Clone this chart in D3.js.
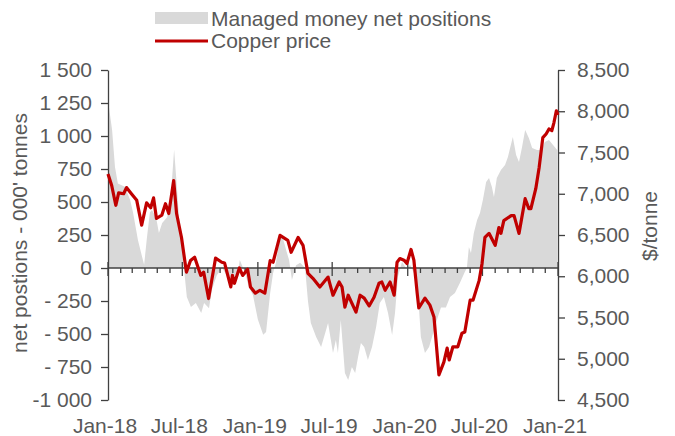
<!DOCTYPE html>
<meta charset="utf-8">
<script src="https://cdn.jsdelivr.net/npm/d3@7"></script>
<style>
body { margin: 0; background: #fff; }
text { font-family: "Liberation Sans", Arial, sans-serif; fill: #595959; }
</style>
<body>
<script>

// managed money net positions ('000 tonnes), weekly-ish
var posDates = ["2018-01-01","2018-01-11","2018-01-18","2018-01-25","2018-02-11","2018-02-24","2018-03-03","2018-03-15","2018-03-25","2018-03-30",
  "2018-04-06","2018-04-13","2018-04-18","2018-04-28","2018-05-05","2018-05-13","2018-05-25","2018-06-03","2018-06-11","2018-06-16",
  "2018-06-23","2018-06-30","2018-07-05","2018-07-12","2018-07-22","2018-08-03","2018-08-16","2018-08-23","2018-09-04","2018-09-11",
  "2018-09-23","2018-10-06","2018-10-20","2018-11-01","2018-11-14","2018-11-18","2018-11-26","2018-12-03","2018-12-10","2018-12-20",
  "2019-01-01","2019-01-14","2019-01-21","2019-01-31","2019-02-07","2019-02-14","2019-02-24","2019-03-03","2019-03-11","2019-03-18",
  "2019-03-25","2019-04-04","2019-04-14","2019-04-26","2019-05-03","2019-05-10","2019-05-23","2019-06-04","2019-06-14","2019-06-21",
  "2019-07-03","2019-07-10","2019-07-15","2019-07-22","2019-08-01","2019-08-09","2019-08-18","2019-08-26","2019-09-02","2019-09-09",
  "2019-09-17","2019-09-26","2019-10-06","2019-10-16","2019-10-25","2019-11-04","2019-11-14","2019-11-24","2019-12-01","2019-12-08",
  "2019-12-18","2019-12-28","2020-01-07","2020-01-16","2020-01-26","2020-02-02","2020-02-12","2020-02-22","2020-03-03","2020-03-12",
  "2020-03-22","2020-04-03","2020-04-13","2020-04-25","2020-05-07","2020-05-19","2020-05-24","2020-05-29","2020-06-03","2020-06-10",
  "2020-06-18","2020-06-25","2020-07-02","2020-07-10","2020-07-17","2020-07-24","2020-07-29","2020-08-05","2020-08-15","2020-08-25",
  "2020-09-01","2020-09-13","2020-09-21","2020-09-28","2020-10-05","2020-10-13","2020-10-22","2020-10-30","2020-11-11","2020-11-21",
  "2020-11-30","2020-12-10","2020-12-20","2020-12-30"];
var posValues = [1270,1045,765,640,615,515,420,210,85,25,
  235,420,440,385,265,340,385,540,895,690,
  385,210,0,-220,-295,-265,-340,-265,-305,-165,
  -55,0,-70,-90,-20,60,0,-60,-145,-205,
  -390,-505,-485,-190,-40,40,250,225,135,60,
  -90,20,40,0,-250,-417,-523,-598,-492,-417,
  -644,-545,-644,-394,-795,-848,-750,-795,-674,-568,
  -598,-697,-598,-447,-265,-220,-341,-508,-341,-68,
  45,0,23,-38,-190,-523,-644,-598,-492,-394,
  -300,-300,-220,-190,-114,-30,0,159,114,265,
  364,417,515,652,682,614,538,682,742,780,
  841,992,856,803,909,1045,985,909,894,894,
  955,970,932,894];

// copper price ($/tonne)
var cuDates = ["2018-01-01","2018-01-10","2018-01-20","2018-01-27","2018-02-08","2018-02-15","2018-02-27","2018-03-12","2018-03-24","2018-04-05",
  "2018-04-15","2018-04-22","2018-04-29","2018-05-12","2018-05-21","2018-05-29","2018-06-10","2018-06-17","2018-06-29","2018-07-11",
  "2018-07-21","2018-07-31","2018-08-15","2018-08-22","2018-09-03","2018-09-20","2018-10-05","2018-10-12","2018-10-27","2018-10-31",
  "2018-11-05","2018-11-17","2018-11-25","2018-12-07","2018-12-14","2018-12-26","2019-01-06","2019-01-18","2019-01-31","2019-02-07",
  "2019-02-24","2019-03-15","2019-03-23","2019-04-09","2019-04-21","2019-05-03","2019-05-15","2019-06-01","2019-06-21","2019-07-03",
  "2019-07-18","2019-07-25","2019-08-01","2019-08-09","2019-08-28","2019-09-07","2019-09-17","2019-09-29","2019-10-11","2019-10-23",
  "2019-10-30","2019-11-07","2019-11-19","2019-11-29","2019-12-06","2019-12-13","2019-12-23","2019-12-30","2020-01-09","2020-01-16",
  "2020-01-24","2020-01-28","2020-02-12","2020-02-24","2020-03-05","2020-03-17","2020-03-29","2020-04-06","2020-04-11","2020-04-20",
  "2020-05-02","2020-05-12","2020-05-19","2020-06-01","2020-06-08","2020-06-23","2020-06-30","2020-07-07","2020-07-17","2020-08-01",
  "2020-08-10","2020-08-15","2020-08-22","2020-09-09","2020-09-16","2020-09-28","2020-10-13","2020-10-22","2020-10-27","2020-11-08",
  "2020-11-16","2020-11-25","2020-12-03","2020-12-10","2020-12-17","2020-12-22","2020-12-28","2021-01-01"];
var cuPrices = [7240,7100,6860,7010,7000,7075,7000,6920,6620,6890,
  6830,6950,6700,6740,6880,6760,7160,6760,6470,6050,
  6190,6230,6010,6050,5730,6220,6170,6160,5870,6010,
  5915,6100,6010,6085,5870,5795,5830,5795,6190,6170,
  6495,6435,6290,6470,6375,6035,5975,5870,5990,5770,
  5930,5870,5625,5770,5565,5770,5735,5640,5745,5915,
  5930,5830,5930,5770,6170,6215,6195,6155,6325,6195,
  5795,5615,5735,5650,5505,4805,4960,5130,4985,5145,
  5145,5310,5325,5710,5710,5950,6155,6470,6520,6375,
  6590,6520,6675,6735,6735,6520,6940,6820,6820,7065,
  7315,7680,7725,7785,7765,7860,8005,7955];

var leftTicks = [1500,1250,1000,750,500,250,0,-250,-500,-750,-1000];
var leftLabels = ["1 500","1 250","1 000","750","500","250","0","- 250","- 500","- 750","-1 000"];
var rightTicks = [8500,8000,7500,7000,6500,6000,5500,5000,4500];
var xTickLabels = ["Jan-18","Jul-18","Jan-19","Jul-19","Jan-20","Jul-20","Jan-21"];

var parse = d3.timeParse("%Y-%m-%d");
var pos = posDates.map(function(d, i) { return {date: parse(d), v: posValues[i]}; });
var cu = cuDates.map(function(d, i) { return {date: parse(d), v: cuPrices[i]}; });

var W = 675, H = 436;
var plotL = 108, plotR = 558, plotT = 70, plotB = 400;
var fs = 21;

var svg = d3.select("body").append("svg")
    .attr("width", W)
    .attr("height", H);

var x = d3.scaleTime()
    .domain([parse("2018-01-01"), parse("2021-01-01")])
    .range([plotL, plotR]);
var yL = d3.scaleLinear().domain([-1000, 1500]).range([plotB, plotT]);
var yR = d3.scaleLinear().domain([4500, 8500]).range([plotB, plotT]);

// grey area
svg.append("path")
    .datum(pos)
    .attr("fill", "#d9d9d9")
    .attr("d", d3.area()
      .x(function(d) { return x(d.date); })
      .y0(yL(0))
      .y1(function(d) { return yL(d.v); }));

// left axis
var axL = svg.append("g")
    .attr("transform", "translate(" + plotL + ",0)")
    .call(d3.axisLeft(yL).tickValues(leftTicks).tickSize(7).tickSizeOuter(0)
      .tickFormat(function(d, i) { return leftLabels[i]; }));
axL.select(".domain").attr("stroke", "#404040").attr("stroke-width", 1.3);
axL.selectAll(".tick line").attr("stroke", "#404040").attr("stroke-width", 1.3);
axL.selectAll("text").attr("font-size", fs).attr("x", -16)
    .style("font-family", "Liberation Sans, Arial, sans-serif").attr("fill", "#595959");

// right axis
var axR = svg.append("g")
    .attr("transform", "translate(" + plotR + ",0)")
    .call(d3.axisRight(yR).tickValues(rightTicks).tickSize(7).tickSizeOuter(0)
      .tickFormat(d3.format(",")));
axR.select(".domain").attr("stroke", "#404040").attr("stroke-width", 1.3);
axR.selectAll(".tick line").attr("stroke", "#404040").attr("stroke-width", 1.3);
axR.selectAll("text").attr("font-size", fs).attr("x", 19)
    .style("font-family", "Liberation Sans, Arial, sans-serif").attr("fill", "#595959");

// zero line with month ticks
var zero = svg.append("g");
zero.append("line")
    .attr("x1", plotL).attr("x2", plotR)
    .attr("y1", yL(0)).attr("y2", yL(0))
    .attr("stroke", "#404040").attr("stroke-width", 1.3);
var months = d3.timeMonth.range(parse("2018-01-01"), d3.timeDay.offset(parse("2021-01-01"), 1));
zero.selectAll(".mt")
    .data(months)
  .enter().append("line")
    .attr("x1", function(d) { return x(d); })
    .attr("x2", function(d) { return x(d); })
    .attr("y1", function(d) { return d.getMonth() % 6 === 0 ? yL(0) - 6 : yL(0); })
    .attr("y2", function(d) { return d.getMonth() % 6 === 0 ? yL(0) + 8 : yL(0) + 5; })
    .attr("stroke", "#404040").attr("stroke-width", 1.3);

// copper line
svg.append("path")
    .datum(cu)
    .attr("fill", "none")
    .attr("stroke", "#c00000")
    .attr("stroke-width", 3.2)
    .attr("stroke-linejoin", "round")
    .attr("d", d3.line()
      .x(function(d) { return x(d.date); })
      .y(function(d) { return yR(d.v); }));

// x labels
svg.selectAll(".xl")
    .data(xTickLabels)
  .enter().append("text")
    .attr("x", function(d, i) { return x(d3.timeMonth.offset(parse("2018-01-01"), i * 6)) - 3; })
    .attr("y", 433)
    .attr("text-anchor", "middle")
    .attr("font-size", fs)
    .text(function(d) { return d; });

// axis titles
svg.append("text")
    .attr("transform", "translate(27,233) rotate(-90)")
    .attr("text-anchor", "middle")
    .attr("font-size", fs)
    .text("net postions - 000' tonnes");
svg.append("text")
    .attr("transform", "translate(657,226) rotate(-90)")
    .attr("text-anchor", "middle")
    .attr("font-size", fs)
    .text("$/tonne");

// legend
var lg = svg.append("g");
lg.append("rect")
    .attr("x", 155).attr("y", 12).attr("width", 53).attr("height", 12)
    .attr("fill", "#d9d9d9");
lg.append("line")
    .attr("x1", 155).attr("x2", 208).attr("y1", 41).attr("y2", 41)
    .attr("stroke", "#c00000").attr("stroke-width", 3.2);
lg.append("text").attr("x", 211).attr("y", 26).attr("font-size", fs).text("Managed money net positions");
lg.append("text").attr("x", 211).attr("y", 48).attr("font-size", fs).text("Copper price");

</script>
</body>
